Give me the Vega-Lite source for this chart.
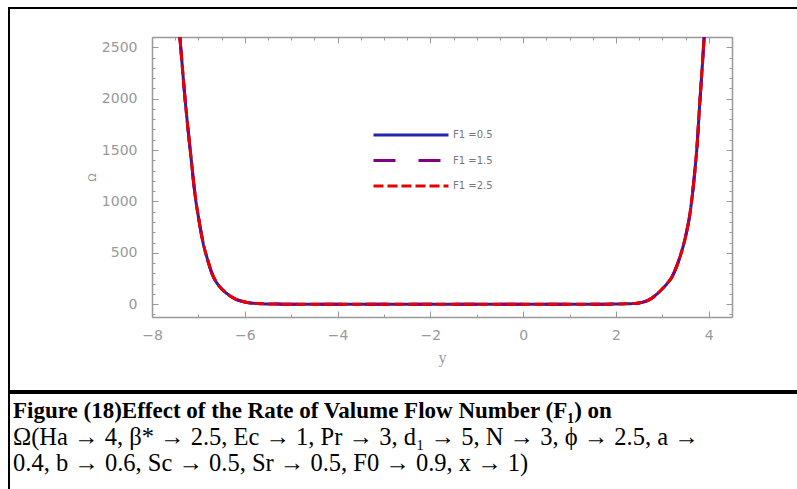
{
  "$schema": "https://vega.github.io/schema/vega-lite/v6.json",
  "background": "white",
  "padding": {"left": 8, "top": 7, "right": 0, "bottom": 0},
  "spacing": 0,
  "config": {"view": {"stroke": "black", "strokeWidth": 2}, "font": "DejaVu Sans"},
  "datasets": {
    "curves": [
      {"series":"F1 =0.5","y":-7.4,"omega":2600},{"series":"F1 =0.5","y":-7.35,"omega":2330},{"series":"F1 =0.5","y":-7.3,"omega":2060},{"series":"F1 =0.5","y":-7.25,"omega":1820},{"series":"F1 =0.5","y":-7.2,"omega":1600},{"series":"F1 =0.5","y":-7.15,"omega":1390},{"series":"F1 =0.5","y":-7.1,"omega":1170},{"series":"F1 =0.5","y":-7.05,"omega":990},{"series":"F1 =0.5","y":-7.0,"omega":850},{"series":"F1 =0.5","y":-6.9,"omega":600},{"series":"F1 =0.5","y":-6.8,"omega":430},{"series":"F1 =0.5","y":-6.7,"omega":290},{"series":"F1 =0.5","y":-6.6,"omega":205},{"series":"F1 =0.5","y":-6.5,"omega":150},{"series":"F1 =0.5","y":-6.4,"omega":108},{"series":"F1 =0.5","y":-6.3,"omega":75},{"series":"F1 =0.5","y":-6.2,"omega":50},{"series":"F1 =0.5","y":-6.1,"omega":33},{"series":"F1 =0.5","y":-6.0,"omega":21},{"series":"F1 =0.5","y":-5.9,"omega":13},{"series":"F1 =0.5","y":-5.8,"omega":8},{"series":"F1 =0.5","y":-5.6,"omega":3},{"series":"F1 =0.5","y":-5.4,"omega":1},{"series":"F1 =0.5","y":-5.0,"omega":0},{"series":"F1 =0.5","y":-4,"omega":0},{"series":"F1 =0.5","y":-3,"omega":0},{"series":"F1 =0.5","y":-2,"omega":0},{"series":"F1 =0.5","y":-1,"omega":0},{"series":"F1 =0.5","y":0,"omega":0},{"series":"F1 =0.5","y":1,"omega":0},{"series":"F1 =0.5","y":1.8,"omega":0},{"series":"F1 =0.5","y":2.0,"omega":1},{"series":"F1 =0.5","y":2.2,"omega":3},{"series":"F1 =0.5","y":2.4,"omega":7},{"series":"F1 =0.5","y":2.5,"omega":12},{"series":"F1 =0.5","y":2.6,"omega":22},{"series":"F1 =0.5","y":2.7,"omega":40},{"series":"F1 =0.5","y":2.8,"omega":68},{"series":"F1 =0.5","y":2.9,"omega":105},{"series":"F1 =0.5","y":3.0,"omega":150},{"series":"F1 =0.5","y":3.1,"omega":200},{"series":"F1 =0.5","y":3.2,"omega":260},{"series":"F1 =0.5","y":3.3,"omega":360},{"series":"F1 =0.5","y":3.4,"omega":490},{"series":"F1 =0.5","y":3.5,"omega":660},{"series":"F1 =0.5","y":3.6,"omega":900},{"series":"F1 =0.5","y":3.7,"omega":1300},{"series":"F1 =0.5","y":3.75,"omega":1560},{"series":"F1 =0.5","y":3.8,"omega":1920},{"series":"F1 =0.5","y":3.85,"omega":2250},{"series":"F1 =0.5","y":3.9,"omega":2600},
      {"series":"F1 =1.5","y":-7.4,"omega":2600},{"series":"F1 =1.5","y":-7.35,"omega":2330},{"series":"F1 =1.5","y":-7.3,"omega":2060},{"series":"F1 =1.5","y":-7.25,"omega":1820},{"series":"F1 =1.5","y":-7.2,"omega":1600},{"series":"F1 =1.5","y":-7.15,"omega":1390},{"series":"F1 =1.5","y":-7.1,"omega":1170},{"series":"F1 =1.5","y":-7.05,"omega":990},{"series":"F1 =1.5","y":-7.0,"omega":850},{"series":"F1 =1.5","y":-6.9,"omega":600},{"series":"F1 =1.5","y":-6.8,"omega":430},{"series":"F1 =1.5","y":-6.7,"omega":290},{"series":"F1 =1.5","y":-6.6,"omega":205},{"series":"F1 =1.5","y":-6.5,"omega":150},{"series":"F1 =1.5","y":-6.4,"omega":108},{"series":"F1 =1.5","y":-6.3,"omega":75},{"series":"F1 =1.5","y":-6.2,"omega":50},{"series":"F1 =1.5","y":-6.1,"omega":33},{"series":"F1 =1.5","y":-6.0,"omega":21},{"series":"F1 =1.5","y":-5.9,"omega":13},{"series":"F1 =1.5","y":-5.8,"omega":8},{"series":"F1 =1.5","y":-5.6,"omega":3},{"series":"F1 =1.5","y":-5.4,"omega":1},{"series":"F1 =1.5","y":-5.0,"omega":0},{"series":"F1 =1.5","y":-4,"omega":0},{"series":"F1 =1.5","y":-3,"omega":0},{"series":"F1 =1.5","y":-2,"omega":0},{"series":"F1 =1.5","y":-1,"omega":0},{"series":"F1 =1.5","y":0,"omega":0},{"series":"F1 =1.5","y":1,"omega":0},{"series":"F1 =1.5","y":1.8,"omega":0},{"series":"F1 =1.5","y":2.0,"omega":1},{"series":"F1 =1.5","y":2.2,"omega":3},{"series":"F1 =1.5","y":2.4,"omega":7},{"series":"F1 =1.5","y":2.5,"omega":12},{"series":"F1 =1.5","y":2.6,"omega":22},{"series":"F1 =1.5","y":2.7,"omega":40},{"series":"F1 =1.5","y":2.8,"omega":68},{"series":"F1 =1.5","y":2.9,"omega":105},{"series":"F1 =1.5","y":3.0,"omega":150},{"series":"F1 =1.5","y":3.1,"omega":200},{"series":"F1 =1.5","y":3.2,"omega":260},{"series":"F1 =1.5","y":3.3,"omega":360},{"series":"F1 =1.5","y":3.4,"omega":490},{"series":"F1 =1.5","y":3.5,"omega":660},{"series":"F1 =1.5","y":3.6,"omega":900},{"series":"F1 =1.5","y":3.7,"omega":1300},{"series":"F1 =1.5","y":3.75,"omega":1560},{"series":"F1 =1.5","y":3.8,"omega":1920},{"series":"F1 =1.5","y":3.85,"omega":2250},{"series":"F1 =1.5","y":3.9,"omega":2600},
      {"series":"F1 =2.5","y":-7.4,"omega":2600},{"series":"F1 =2.5","y":-7.35,"omega":2330},{"series":"F1 =2.5","y":-7.3,"omega":2060},{"series":"F1 =2.5","y":-7.25,"omega":1820},{"series":"F1 =2.5","y":-7.2,"omega":1600},{"series":"F1 =2.5","y":-7.15,"omega":1390},{"series":"F1 =2.5","y":-7.1,"omega":1170},{"series":"F1 =2.5","y":-7.05,"omega":990},{"series":"F1 =2.5","y":-7.0,"omega":850},{"series":"F1 =2.5","y":-6.9,"omega":600},{"series":"F1 =2.5","y":-6.8,"omega":430},{"series":"F1 =2.5","y":-6.7,"omega":290},{"series":"F1 =2.5","y":-6.6,"omega":205},{"series":"F1 =2.5","y":-6.5,"omega":150},{"series":"F1 =2.5","y":-6.4,"omega":108},{"series":"F1 =2.5","y":-6.3,"omega":75},{"series":"F1 =2.5","y":-6.2,"omega":50},{"series":"F1 =2.5","y":-6.1,"omega":33},{"series":"F1 =2.5","y":-6.0,"omega":21},{"series":"F1 =2.5","y":-5.9,"omega":13},{"series":"F1 =2.5","y":-5.8,"omega":8},{"series":"F1 =2.5","y":-5.6,"omega":3},{"series":"F1 =2.5","y":-5.4,"omega":1},{"series":"F1 =2.5","y":-5.0,"omega":0},{"series":"F1 =2.5","y":-4,"omega":0},{"series":"F1 =2.5","y":-3,"omega":0},{"series":"F1 =2.5","y":-2,"omega":0},{"series":"F1 =2.5","y":-1,"omega":0},{"series":"F1 =2.5","y":0,"omega":0},{"series":"F1 =2.5","y":1,"omega":0},{"series":"F1 =2.5","y":1.8,"omega":0},{"series":"F1 =2.5","y":2.0,"omega":1},{"series":"F1 =2.5","y":2.2,"omega":3},{"series":"F1 =2.5","y":2.4,"omega":7},{"series":"F1 =2.5","y":2.5,"omega":12},{"series":"F1 =2.5","y":2.6,"omega":22},{"series":"F1 =2.5","y":2.7,"omega":40},{"series":"F1 =2.5","y":2.8,"omega":68},{"series":"F1 =2.5","y":2.9,"omega":105},{"series":"F1 =2.5","y":3.0,"omega":150},{"series":"F1 =2.5","y":3.1,"omega":200},{"series":"F1 =2.5","y":3.2,"omega":260},{"series":"F1 =2.5","y":3.3,"omega":360},{"series":"F1 =2.5","y":3.4,"omega":490},{"series":"F1 =2.5","y":3.5,"omega":660},{"series":"F1 =2.5","y":3.6,"omega":900},{"series":"F1 =2.5","y":3.7,"omega":1300},{"series":"F1 =2.5","y":3.75,"omega":1560},{"series":"F1 =2.5","y":3.8,"omega":1920},{"series":"F1 =2.5","y":3.85,"omega":2250},{"series":"F1 =2.5","y":3.9,"omega":2600}
    ],
    "caption": [
      {"line": 1, "text": "Figure (18)Effect of the  Rate of Valume Flow  Number (F₁) on"},
      {"line": 2, "text": "Ω(Ha → 4, β* → 2.5, Ec → 1, Pr → 3, d₁ → 5, N → 3, ϕ → 2.5, a →"},
      {"line": 3, "text": "0.4, b → 0.6, Sc → 0.5, Sr → 0.5, F0 → 0.9, x → 1)"}
    ]
  },
  "vconcat": [
    {
      "width": 792,
      "height": 383,
      "data": {"name": "curves"},
      "encoding": {
        "color": {
          "field": "series", "type": "nominal",
          "scale": {"domain": ["F1 =0.5", "F1 =1.5", "F1 =2.5"], "range": ["#2323b0", "#800080", "#e60000"]},
          "legend": {"orient": "none", "legendX": 363, "legendY": 117, "title": null, "symbolType": "stroke", "symbolSize": 5625, "clipHeight": 20, "symbolStrokeWidth": 3, "rowPadding": 5.5, "labelFont": "DejaVu Sans", "labelFontSize": 10, "labelColor": "#777777", "labelOffset": 3, "padding": 0}
        },
        "strokeDash": {
          "field": "series", "type": "nominal",
          "scale": {"domain": ["F1 =0.5", "F1 =1.5", "F1 =2.5"], "range": [[1, 0], [22, 23], [10, 4]]},
          "legend": {"orient": "none", "legendX": 363, "legendY": 117, "title": null, "symbolType": "stroke", "symbolSize": 5625, "clipHeight": 20, "symbolStrokeWidth": 3, "rowPadding": 5.5, "labelFont": "DejaVu Sans", "labelFontSize": 10, "labelColor": "#777777", "labelOffset": 3, "padding": 0}
        }
      },
      "layer": [
        {
          "transform": [{"filter": "datum.series === 'F1 =0.5'"}],
          "mark": {"type": "line", "strokeWidth": 3, "interpolate": "monotone"},
          "encoding": {
            "x": {"field": "y", "type": "quantitative",
              "scale": {"domain": [-8, 4.5], "range": [143, 723], "nice": false, "zero": false},
              "axis": {"orient": "bottom", "offset": -74, "grid": false,
                "values": [-8,-7.5,-7,-6.5,-6,-5.5,-5,-4.5,-4,-3.5,-3,-2.5,-2,-1.5,-1,-0.5,0,0.5,1,1.5,2,2.5,3,3.5,4,4.5],
                "format": "d", "labelExpr": "datum.value % 2 === 0 ? datum.label : ''",
                "labelOverlap": false, "labelFlush": false, "labelBound": false,
                "tickSize": {"condition": {"test": "datum.value % 2 === 0", "value": -6}, "value": -3},
                "tickColor": "#999999", "tickWidth": 1, "domainColor": "#999999", "domainWidth": 1.5,
                "labelColor": "#999999", "labelFont": "DejaVu Sans", "labelFontSize": 14, "labelPadding": 17,
                "title": "y", "titleFont": "Liberation Serif", "titleFontSize": 16, "titleFontWeight": "normal", "titleColor": "#999999", "titlePadding": 4}},
            "y": {"field": "omega", "type": "quantitative",
              "scale": {"domain": [-125, 2600], "range": [309, 29], "nice": false, "zero": false},
              "axis": {"orient": "left", "offset": -143, "grid": false,
                "values": [-100,0,100,200,300,400,500,600,700,800,900,1000,1100,1200,1300,1400,1500,1600,1700,1800,1900,2000,2100,2200,2300,2400,2500],
                "format": "d", "labelExpr": "datum.value % 500 === 0 ? datum.label : ''",
                "labelOverlap": false, "labelFlush": false, "labelBound": false,
                "tickSize": {"condition": {"test": "datum.value % 500 === 0", "value": -6}, "value": -3},
                "tickColor": "#999999", "tickWidth": 1, "domainColor": "#999999", "domainWidth": 1.5,
                "labelColor": "#999999", "labelFont": "DejaVu Sans", "labelFontSize": 14, "labelPadding": 21,
                "title": "Ω", "titleFont": "DejaVu Sans", "titleFontSize": 11, "titleFontWeight": "normal", "titleColor": "#999999", "titlePadding": 4}}
          }
        },
        {
          "transform": [{"filter": "datum.series === 'F1 =1.5'"}],
          "mark": {"type": "line", "strokeWidth": 3, "interpolate": "monotone"},
          "encoding": {
            "x": {"field": "y", "type": "quantitative",
              "axis": {"orient": "top", "offset": -29, "grid": false, "labels": false, "title": null,
                "values": [-8,-7.5,-7,-6.5,-6,-5.5,-5,-4.5,-4,-3.5,-3,-2.5,-2,-1.5,-1,-0.5,0,0.5,1,1.5,2,2.5,3,3.5,4,4.5],
                "tickSize": {"condition": {"test": "datum.value % 2 === 0", "value": -6}, "value": -3},
                "tickColor": "#999999", "tickWidth": 1, "domainColor": "#999999", "domainWidth": 1.5}},
            "y": {"field": "omega", "type": "quantitative",
              "axis": {"orient": "right", "offset": -69, "grid": false, "labels": false, "title": null,
                "values": [-100,0,100,200,300,400,500,600,700,800,900,1000,1100,1200,1300,1400,1500,1600,1700,1800,1900,2000,2100,2200,2300,2400,2500],
                "tickSize": {"condition": {"test": "datum.value % 500 === 0", "value": -6}, "value": -3},
                "tickColor": "#999999", "tickWidth": 1, "domainColor": "#999999", "domainWidth": 1.5}}
          }
        },
        {
          "transform": [{"filter": "datum.series === 'F1 =2.5'"}],
          "mark": {"type": "line", "strokeWidth": 3, "interpolate": "monotone"},
          "encoding": {
            "x": {"field": "y", "type": "quantitative", "axis": null},
            "y": {"field": "omega", "type": "quantitative", "axis": null}
          }
        }
      ]
    },
    {
      "width": 792,
      "height": 104,
      "data": {"name": "caption"},
      "encoding": {
        "x": {"datum": 0, "type": "quantitative", "scale": {"domain": [0, 1]}, "axis": null},
        "y": {"field": "line", "type": "ordinal", "scale": {"type": "point", "domain": [1, 2, 3], "range": [18, 71], "padding": 0}, "axis": null},
        "text": {"field": "text", "type": "nominal"}
      },
      "layer": [
        {
          "transform": [{"filter": "datum.line === 1"}],
          "mark": {"type": "text", "align": "left", "baseline": "middle", "dx": 4, "font": "Liberation Serif", "fontSize": 23, "fontWeight": "bold", "color": "black"}
        },
        {
          "transform": [{"filter": "datum.line > 1"}],
          "mark": {"type": "text", "align": "left", "baseline": "middle", "dx": 4, "font": "Liberation Serif", "fontSize": 24.5, "fontWeight": "normal", "color": "black"}
        }
      ]
    }
  ]
}
